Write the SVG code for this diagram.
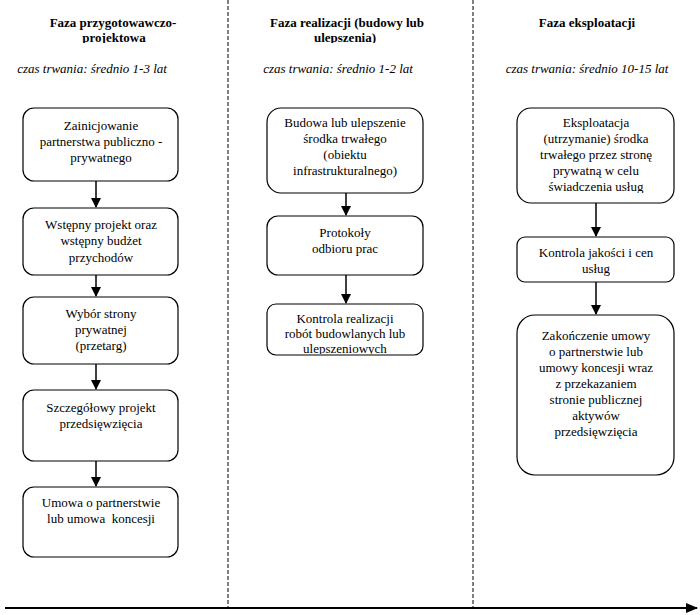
<svg xmlns="http://www.w3.org/2000/svg" width="700" height="615" viewBox="0 0 700 615">
<style>
.box{fill:#fff;stroke:#000;stroke-width:1.2}
.t{font-family:"Liberation Serif","Times New Roman",serif;font-size:13px;fill:#000;text-anchor:middle}
.h{font-family:"Liberation Serif","Times New Roman",serif;font-size:13px;font-weight:bold;fill:#000;text-anchor:middle}
.i{font-family:"Liberation Serif","Times New Roman",serif;font-size:13px;font-style:italic;fill:#000;text-anchor:middle}
.dash{stroke:#000;stroke-width:1;stroke-dasharray:4 2;fill:none}
.arr{stroke:#000;stroke-width:1.5;fill:none;marker-end:url(#ah)}
</style>
<defs>
<marker id="ah" markerWidth="10" markerHeight="10" refX="9" refY="5" orient="auto" markerUnits="userSpaceOnUse"><path d="M0,0 L10,5 L0,10 Z" fill="#000"/></marker>
<marker id="ah2" markerWidth="12" markerHeight="10" refX="11" refY="5" orient="auto" markerUnits="userSpaceOnUse"><path d="M0,0 L12,5 L0,10 Z" fill="#000"/></marker>
<clipPath id="hc"><rect x="0" y="0" width="700" height="43"/></clipPath>
<clipPath id="c3"><rect x="267" y="304" width="156" height="50"/></clipPath>
<clipPath id="c4"><rect x="517" y="108" width="157" height="85"/></clipPath>
</defs>
<rect width="700" height="615" fill="#fff"/>
<g id="dividers">
<line class="dash" x1="228" y1="0" x2="228" y2="608"/>
<line class="dash" x1="473" y1="0" x2="473" y2="608"/>
</g>
<g id="headers">
<g clip-path="url(#hc)">
<text class="h" x="113" y="27">Faza przygotowawczo-</text>
<text class="h" x="114" y="42">projektowa</text>
<text class="h" x="347" y="27">Faza realizacji (budowy lub</text>
<text class="h" x="345" y="42">ulepszenia)</text>
</g>
<text class="h" x="587" y="27">Faza eksploatacji</text>
<text class="i" x="92" y="73">czas trwania: średnio 1-3 lat</text>
<text class="i" x="338" y="73">czas trwania: średnio 1-2 lat</text>
<text class="i" x="587" y="73">czas trwania: średnio 10-15 lat</text>
</g>
<g id="n1"><rect class="box" x="23" y="108" width="155" height="73" rx="11"/>
<text class="t" x="101" y="130">Zainicjowanie</text><text class="t" x="101" y="146">partnerstwa publiczno -</text><text class="t" x="101" y="162">prywatnego</text></g>
<g id="n2"><rect class="box" x="23" y="208" width="155" height="67" rx="11"/>
<text class="t" x="101" y="229">Wstępny projekt oraz</text><text class="t" x="101" y="245">wstępny budżet</text><text class="t" x="101" y="262">przychodów</text></g>
<g id="n3"><rect class="box" x="23" y="297" width="155" height="67" rx="11"/>
<text class="t" x="101" y="318">Wybór strony</text><text class="t" x="101" y="334">prywatnej</text><text class="t" x="101" y="350">(przetarg)</text></g>
<g id="n4"><rect class="box" x="23" y="390" width="155" height="71" rx="11"/>
<text class="t" x="101" y="412">Szczegółowy projekt</text><text class="t" x="101" y="428">przedsięwzięcia</text></g>
<g id="n5"><rect class="box" x="23" y="487" width="155" height="70" rx="11"/>
<text class="t" x="101" y="507">Umowa o partnerstwie</text><text class="t" x="101" y="523" style="white-space:pre">lub umowa  koncesji</text></g>
<g id="m1"><rect class="box" x="267" y="108" width="156" height="85" rx="14"/>
<text class="t" x="345" y="127">Budowa lub ulepszenie</text><text class="t" x="345" y="143">środka trwałego</text><text class="t" x="345" y="159">(obiektu</text><text class="t" x="345" y="175">infrastrukturalnego)</text></g>
<g id="m2"><rect class="box" x="267" y="216" width="156" height="59" rx="11"/>
<text class="t" x="345" y="237">Protokoły</text><text class="t" x="345" y="253">odbioru prac</text></g>
<g id="m3"><rect class="box" x="267" y="304" width="156" height="51" rx="9"/>
<g clip-path="url(#c3)"><text class="t" x="345" y="323">Kontrola realizacji</text><text class="t" x="345" y="338">robót budowlanych lub</text><text class="t" x="345" y="353">ulepszeniowych</text></g></g>
<g id="r1"><rect class="box" x="517" y="108" width="157" height="95" rx="14"/>
<g clip-path="url(#c4)"><text class="t" x="596" y="127">Eksploatacja</text><text class="t" x="596" y="143">(utrzymanie) środka</text><text class="t" x="596" y="159">trwałego przez stronę</text><text class="t" x="596" y="175">prywatną w celu</text><text class="t" x="596" y="191">świadczenia usług</text></g></g>
<g id="r2"><rect class="box" x="517" y="237" width="157" height="45" rx="8"/>
<text class="t" x="596" y="257">Kontrola jakości i cen</text><text class="t" x="596" y="273">usług</text></g>
<g id="r3"><rect class="box" x="517" y="315" width="157" height="160" rx="18"/>
<text class="t" x="596" y="340">Zakończenie umowy</text><text class="t" x="596" y="356">o partnerstwie lub</text><text class="t" x="596" y="372">umowy koncesji wraz</text><text class="t" x="596" y="388">z przekazaniem</text><text class="t" x="596" y="404">stronie publicznej</text><text class="t" x="596" y="420">aktywów</text><text class="t" x="596" y="436">przedsięwzięcia</text></g>
<g id="connectors">
<line class="arr" x1="96" y1="181" x2="96" y2="207"/>
<line class="arr" x1="96" y1="275" x2="96" y2="296"/>
<line class="arr" x1="96" y1="364" x2="96" y2="389"/>
<line class="arr" x1="96" y1="461" x2="96" y2="486"/>
<line class="arr" x1="346" y1="193" x2="346" y2="215"/>
<line class="arr" x1="346" y1="275" x2="346" y2="303"/>
<line class="arr" x1="596" y1="203" x2="596" y2="236"/>
<line class="arr" x1="596" y1="282" x2="596" y2="314"/>
<line x1="5" y1="608" x2="697" y2="608" stroke="#000" stroke-width="2" marker-end="url(#ah2)"/>
</g>
</svg>
